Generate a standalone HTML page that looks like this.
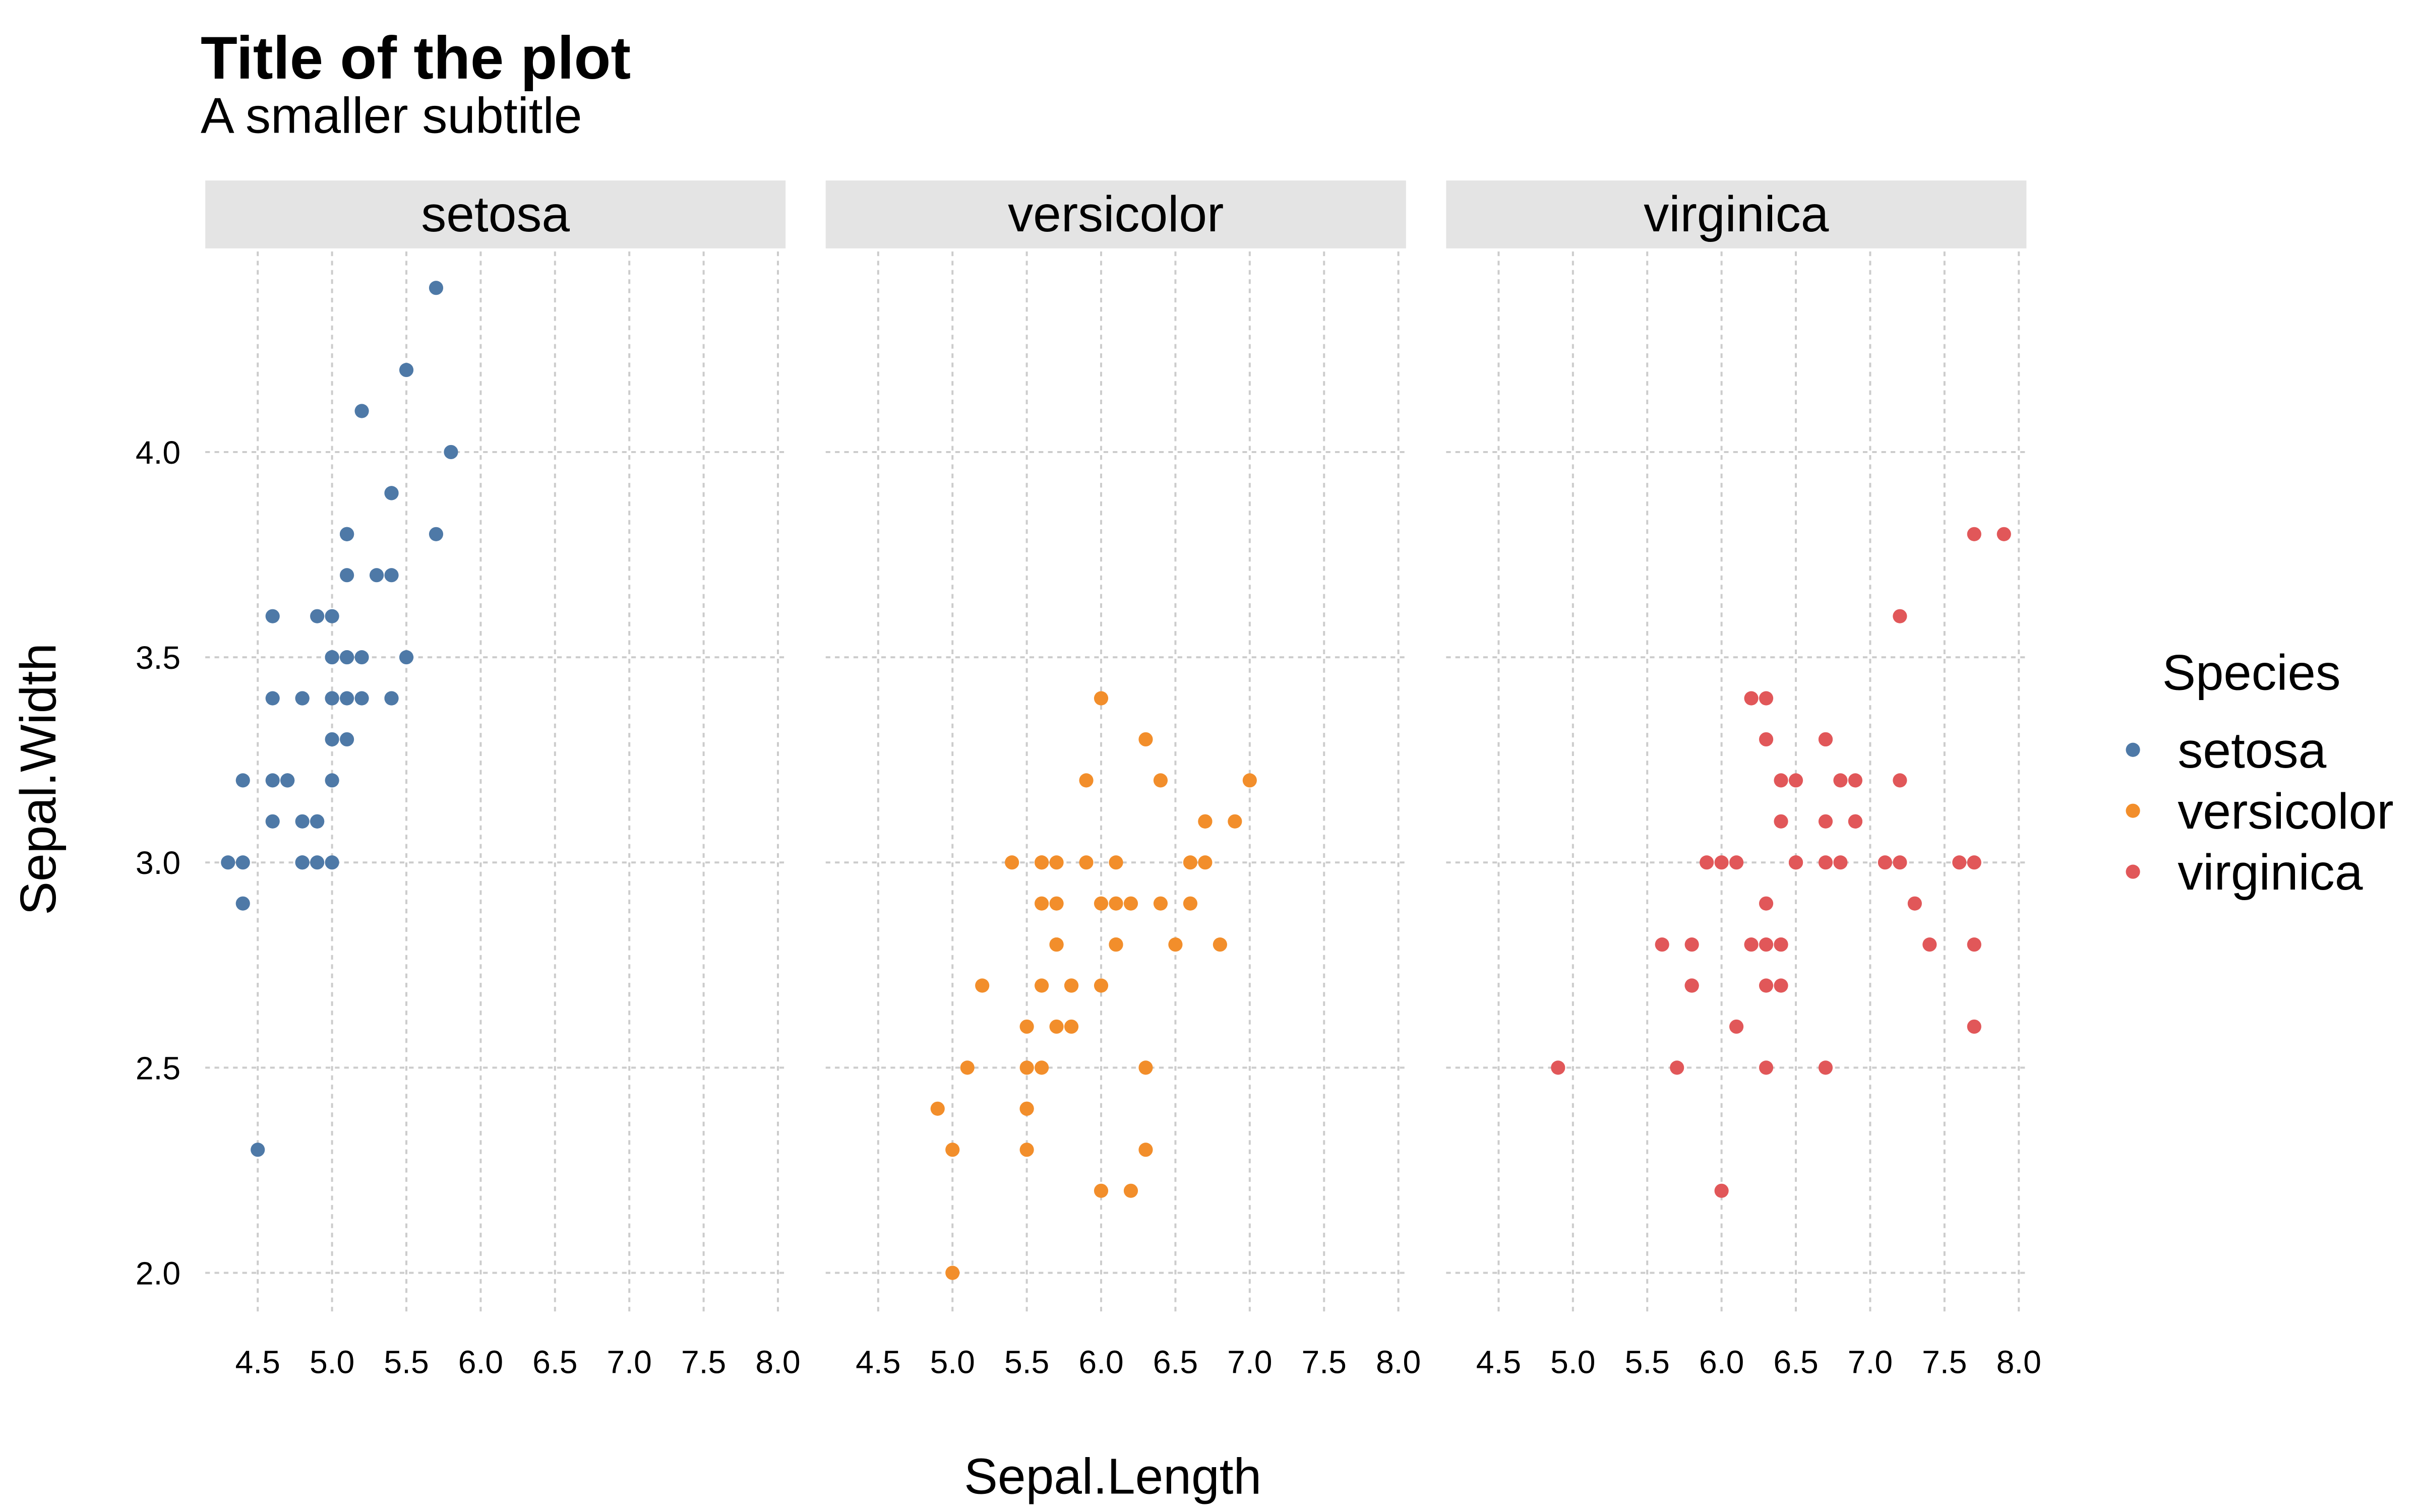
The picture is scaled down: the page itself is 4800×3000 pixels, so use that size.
<!DOCTYPE html>
<html><head><meta charset="utf-8"><style>
html,body{margin:0;padding:0;background:#fff}
svg{display:block}
text{font-family:"Liberation Sans",Arial,sans-serif;fill:#000}
</style></head><body>
<svg id="chart" width="4800" height="3000" viewBox="0 0 1568 980" preserveAspectRatio="none" xmlns="http://www.w3.org/2000/svg">
<text x="130" y="51" font-size="39" font-weight="bold">Title of the plot</text>
<text x="130" y="86" font-size="32.7">A smaller subtitle</text>
<text x="721" y="968" font-size="32.7" text-anchor="middle">Sepal.Length</text>
<text transform="translate(36,505) rotate(-90)" font-size="32.7" text-anchor="middle">Sepal.Width</text>
<g id="panels"></g>
<g>
<text x="1401" y="447" font-size="32.5">Species</text>
<g id="legend-items"></g>
</g>
</svg>
<script>
const species = ["setosa","versicolor","virginica"];
const colors = ["#4e79a7","#f28e2b","#e15759"];
const xTicks = [4.5,5.0,5.5,6.0,6.5,7.0,7.5,8.0];
const xTickLabels = ["4.5","5.0","5.5","6.0","6.5","7.0","7.5","8.0"];
const yTicks = [2.0,2.5,3.0,3.5,4.0];
const yTickLabels = ["2.0","2.5","3.0","3.5","4.0"];
const setosaLength = [5.1,4.9,4.7,4.6,5.0,5.4,4.6,5.0,4.4,4.9,5.4,4.8,4.8,4.3,5.8,5.7,5.4,5.1,5.7,5.1,5.4,5.1,4.6,5.1,4.8,5.0,5.0,5.2,5.2,4.7,4.8,5.4,5.2,5.5,4.9,5.0,5.5,4.9,4.4,5.1,5.0,4.5,4.4,5.0,5.1,4.8,5.1,4.6,5.3,5.0];
const setosaWidth = [3.5,3.0,3.2,3.1,3.6,3.9,3.4,3.4,2.9,3.1,3.7,3.4,3.0,3.0,4.0,4.4,3.9,3.5,3.8,3.8,3.4,3.7,3.6,3.3,3.4,3.0,3.4,3.5,3.4,3.2,3.1,3.4,4.1,4.2,3.1,3.2,3.5,3.6,3.0,3.4,3.5,2.3,3.2,3.5,3.8,3.0,3.8,3.2,3.7,3.3];
const versicolorLength = [7.0,6.4,6.9,5.5,6.5,5.7,6.3,4.9,6.6,5.2,5.0,5.9,6.0,6.1,5.6,6.7,5.6,5.8,6.2,5.6,5.9,6.1,6.3,6.1,6.4,6.6,6.8,6.7,6.0,5.7,5.5,5.5,5.8,6.0,5.4,6.0,6.7,6.3,5.6,5.5,5.5,6.1,5.8,5.0,5.6,5.7,5.7,6.2,5.1,5.7];
const versicolorWidth = [3.2,3.2,3.1,2.3,2.8,2.8,3.3,2.4,2.9,2.7,2.0,3.0,2.2,2.9,2.9,3.1,3.0,2.7,2.2,2.5,3.2,2.8,2.5,2.8,2.9,3.0,2.8,3.0,2.9,2.6,2.4,2.4,2.7,2.7,3.0,3.4,3.1,2.3,3.0,2.5,2.6,3.0,2.6,2.3,2.7,3.0,2.9,2.9,2.5,2.8];
const virginicaLength = [6.3,5.8,7.1,6.3,6.5,7.6,4.9,7.3,6.7,7.2,6.5,6.4,6.8,5.7,5.8,6.4,6.5,7.7,7.7,6.0,6.9,5.6,7.7,6.3,6.7,7.2,6.2,6.1,6.4,7.2,7.4,7.9,6.4,6.3,6.1,7.7,6.3,6.4,6.0,6.9,6.7,6.9,5.8,6.8,6.7,6.7,6.3,6.5,6.2,5.9];
const virginicaWidth = [3.3,2.7,3.0,2.9,3.0,3.0,2.5,2.9,2.5,3.6,3.2,2.7,3.0,2.5,2.8,3.2,3.0,3.8,2.6,2.2,3.2,2.8,2.8,2.7,3.3,3.2,2.8,3.0,2.8,3.0,2.8,3.8,2.8,2.8,2.6,3.0,3.4,3.1,3.0,3.1,3.1,3.1,2.7,3.2,3.3,3.0,2.5,3.0,3.4,3.0];
const seriesX = [setosaLength, versicolorLength, virginicaLength];
const seriesY = [setosaWidth, versicolorWidth, virginicaWidth];

const NS = "http://www.w3.org/2000/svg";
const panelLefts = [133,535,937];
const panelW = 376, panelTop = 163, panelBottom = 852;
function xScale(v, left){ return left + 34 + (v - 4.5) * 96.3; }
function yScale(v){ return 825 - (v - 2.0) * 266; }
function mk(tag, attrs, parent){ const e=document.createElementNS(NS,tag); for(const k in attrs) e.setAttribute(k,attrs[k]); parent.appendChild(e); return e; }

const panels = document.getElementById("panels");
species.forEach((sp, p) => {
  const left = panelLefts[p];
  const g = mk("g", {}, panels);
  
  
  const strip = mk("rect", {x:left, y:117, width:panelW, height:44, fill:"#e4e4e4"}, g);
  
  
  const st = mk("text", {x:left+panelW/2, y:150, "font-size":32.7, "text-anchor":"middle"}, g);
  st.textContent = sp;
  
  
  yTicks.forEach((t,i) => {
    const l = mk("line", {x1:left, x2:left+panelW, y1:yScale(t), y2:yScale(t), stroke:"#cccccc", "stroke-width":1.3, "stroke-dasharray":"3,3"}, g);
    
    
  });
  xTicks.forEach((t,i) => {
    const x = xScale(t,left);
    const l = mk("line", {x1:x, x2:x, y1:panelTop, y2:panelBottom, stroke:"#cccccc", "stroke-width":1.3, "stroke-dasharray":"3,3"}, g);
    
    
    const tx = mk("text", {x:x, y:890, "font-size":21, "text-anchor":"middle", fill:"#000"}, g);
    tx.textContent = xTickLabels[i];
    
    
  });
  const xs = seriesX[p], ys = seriesY[p];
  for (let i=0;i<xs.length;i++){
    const c = mk("circle", {cx:xScale(xs[i],left), cy:yScale(ys[i]), r:4.6, fill:colors[p]}, g);
    
    
  }
});
yTicks.forEach((t,i) => {
  const tx = mk("text", {x:117, y:yScale(t)+7.5, "font-size":21, "text-anchor":"end", fill:"#000"}, panels);
  tx.textContent = yTickLabels[i];
  
  
});
const legendItems = document.getElementById("legend-items");
species.forEach((sp,i) => {
  const y = 486 + i*39.5;
  const g = mk("g", {}, legendItems);
  
  
  mk("circle", {cx:1382, cy:y, r:4.6, fill:colors[i]}, g);
  const t = mk("text", {x:1411, y:y+11.5, "font-size":32.7}, g);
  t.textContent = sp;
});
</script>
</body></html>
